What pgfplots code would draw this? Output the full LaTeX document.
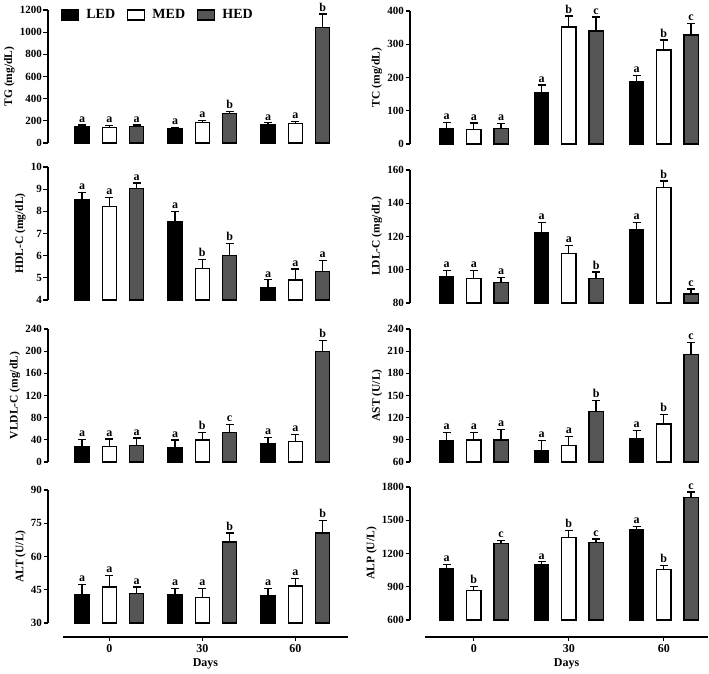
\documentclass[border=0pt]{standalone}
\usepackage{fontspec}
\setmainfont{Liberation Serif}
\usepackage{pgfplots}
\usepackage{pgfplotstable}
\pgfplotsset{compat=1.18}
\definecolor{hedgray}{RGB}{85,85,85}

\pgfplotstableread{
g led ledE ledL med medE medL hed hedE hedL
0 148 15 a 143 15 a 148 14 a
1 128 10 a 188 14 a 268 14 b
2 168 14 a 178 14 a 1045 120 b
}\tgdata
\pgfplotstableread{
g led ledE ledL med medE medL hed hedE hedL
0 45 20 a 43 20 a 46 15 a
1 154 23 a 352 33 b 340 42 c
2 187 20 a 283 30 b 328 34 c
}\tcdata
\pgfplotstableread{
g led ledE ledL med medE medL hed hedE hedL
0 8.52 0.34 a 8.22 0.40 a 9.02 0.26 a
1 7.54 0.46 a 5.43 0.40 b 6.00 0.56 b
2 4.56 0.35 a 4.90 0.50 a 5.28 0.50 a
}\hdldata
\pgfplotstableread{
g led ledE ledL med medE medL hed hedE hedL
0 95.6 3.8 a 94.6 4.8 a 92.2 3.2 a
1 122.6 6.0 a 109.8 4.8 a 94.6 4.0 b
2 124.4 4.2 a 149.6 3.8 b 85.4 3.0 c
}\ldldata
\pgfplotstableread{
g led ledE ledL med medE medL hed hedE hedL
0 28.0 12.5 a 28.0 13.7 a 30.4 13.0 a
1 26.8 13.0 a 39.9 13.7 b 53.6 13.7 c
2 34.0 10.7 a 37.0 12.5 a 199.5 19.6 b
}\vldldata
\pgfplotstableread{
g led ledE ledL med medE medL hed hedE hedL
0 88.7 11.4 a 89.6 10.5 a 89.6 14.6 a
1 76.0 12.7 a 82.8 11.4 a 128.4 14.6 b
2 91.9 10.5 a 111.5 13.2 b 205.9 16.0 c
}\astdata
\pgfplotstableread{
g led ledE ledL med medE medL hed hedE hedL
0 42.7 4.7 a 46.3 5.2 a 43.3 3.0 a
1 42.7 2.8 a 41.5 4.2 a 66.6 4.0 b
2 42.3 3.2 a 46.7 3.3 a 70.6 5.6 b
}\altdata
\pgfplotstableread{
g led ledE ledL med medE medL hed hedE hedL
0 1065 36 a 865 36 b 1293 22 c
1 1103 22 a 1345 60 b 1302 30 c
2 1414 30 a 1058 33 b 1706 48 c
}\alpdata

\pgfplotsset{
  panelbase/.style={scale only axis, width=300pt, height=133pt, anchor=south west,
    xmin=0, xmax=300, scaled y ticks=false,
    /pgf/number format/1000 sep={}, /pgf/number format/assume math mode=true},
  barstyle/.style={ybar, bar width=14.3pt, bar shift=0pt, draw=black, line width=1.3pt,
    error bars/y dir=plus, error bars/y explicit,
    error bars/error bar style={line width=1.3pt, black, solid},
    error bars/error mark=|,
    error bars/error mark options={mark size=4pt, line width=1.3pt, black}},
  letters/.style={draw=none, mark=none, nodes near coords, point meta=explicit symbolic,
    every node near coord/.append style={anchor=south, font=\bfseries\fontsize{12}{12}\selectfont, inner sep=0pt, yshift=2.5pt, text=black}},
  sqlegend/.style={legend image code/.code={\draw[##1] (0pt,-5pt) rectangle (17pt,5pt);}},
  panellegend/.style={},
}
\def\panelextra{}

\newcommand{\panel}[9]{%
 \begin{axis}[panelbase, at={(#1pt,-#2pt)},
   y coord trafo/.code={\pgfmathparse{##1-#3}}, y coord inv trafo/.code={\pgfmathparse{##1+#3}},
   ymin=#3, ymax=#4, ytick={#3,#5,...,#4}, ylabel={#6}, clip=false,
   axis y line=left, axis x line=none, y axis line style={-, line width=1.3pt},
   tick align=outside, major tick length=4.5pt, ytick style={line width=1.3pt, black},
   yticklabel style={font=\bfseries\fontsize{11}{12}\selectfont, inner xsep=1.5pt},
   ylabel style={font=\bfseries\fontsize{11.5}{12}\selectfont}]
  \addplot[barstyle, fill=black] table[x expr={#8+#9*\thisrow{g}}, y=led, y error=ledE]{#7};
  \addplot[barstyle, fill=white] table[x expr={#8+27.3+#9*\thisrow{g}}, y=med, y error=medE]{#7};
  \addplot[barstyle, fill=hedgray] table[x expr={#8+54.6+#9*\thisrow{g}}, y=hed, y error=hedE]{#7};
 \end{axis}
 \begin{axis}[panelbase, at={(#1pt,-#2pt)},
   y coord trafo/.code={\pgfmathparse{##1-#3}}, y coord inv trafo/.code={\pgfmathparse{##1+#3}},
   ymin=#3, ymax=#4, hide axis, clip=false, panellegend]
  \panelextra
  \addplot[letters] table[x expr={#8+#9*\thisrow{g}}, y expr={\thisrow{led}+\thisrow{ledE}}, meta=ledL]{#7};
  \addplot[letters] table[x expr={#8+27.3+#9*\thisrow{g}}, y expr={\thisrow{med}+\thisrow{medE}}, meta=medL]{#7};
  \addplot[letters] table[x expr={#8+54.6+#9*\thisrow{g}}, y expr={\thisrow{hed}+\thisrow{hedE}}, meta=hedL]{#7};
 \end{axis}
}

\newcommand{\daysaxis}[3]{%
 \begin{axis}[scale only axis, width=#2pt, height=10pt, at={(#1pt,-637pt)}, anchor=south west,
   xmin=0, xmax=#2, ymin=0, ymax=1, axis x line=bottom, axis y line=none,
   axis line style={-, line width=1.3pt}, xtick={#3}, xticklabels={0,30,60},
   tick align=outside, major tick length=4pt, xtick style={line width=1.3pt, black},
   xticklabel style={font=\bfseries\fontsize{12}{13}\selectfont},
   xlabel={Days}, xlabel style={font=\bfseries\fontsize{12}{13}\selectfont, yshift=1pt}]
  \addplot[draw=none] coordinates {(1,0.5)};
 \end{axis}
}

\begin{document}
\begin{tikzpicture}
\useasboundingbox (0,0) rectangle (709pt,-674pt);

% TG with legend
\pgfplotsset{panellegend/.style={legend style={at={(0.043,0.962)}, anchor=west, draw=none, fill=none,
   inner sep=0pt, legend columns=3, font=\bfseries\fontsize{14}{15}\selectfont,
   /tikz/every odd column/.append style={column sep=5pt},
   /tikz/every even column/.append style={column sep=10pt}}, legend cell align=left}}
\def\panelextra{%
  \addlegendimage{sqlegend, fill=black, draw=black, line width=1.3pt}\addlegendentry{LED}
  \addlegendimage{sqlegend, fill=white, draw=black, line width=1.3pt}\addlegendentry{MED}
  \addlegendimage{sqlegend, fill=hedgray, draw=black, line width=1.3pt}\addlegendentry{HED}}
\panel{48}{143}{0}{1200}{200}{TG (mg/dL)}{\tgdata}{34}{93}
\pgfplotsset{panellegend/.style={}}
\def\panelextra{}

\panel{410}{144}{0}{400}{100}{TC (mg/dL)}{\tcdata}{36.5}{95}
\panel{48}{300}{4}{10}{5}{HDL-C (mg/dL)}{\hdldata}{34}{93}
\panel{410}{303}{80}{160}{100}{LDL-C (mg/dL)}{\ldldata}{36.5}{95}
\panel{48}{462}{0}{240}{40}{VLDL-C (mg/dL)}{\vldldata}{34}{93}
\panel{410}{462}{60}{240}{90}{AST (U/L)}{\astdata}{36.5}{95}
\panel{48}{623}{30}{90}{45}{ALT (U/L)}{\altdata}{34}{93}
\panel{410}{620}{600}{1800}{900}{ALP (U/L)}{\alpdata}{36.5}{95}

\daysaxis{63}{285}{46.3,139.3,232.3}
\daysaxis{425}{283}{48.8,143.8,238.8}
\end{tikzpicture}
\end{document}
